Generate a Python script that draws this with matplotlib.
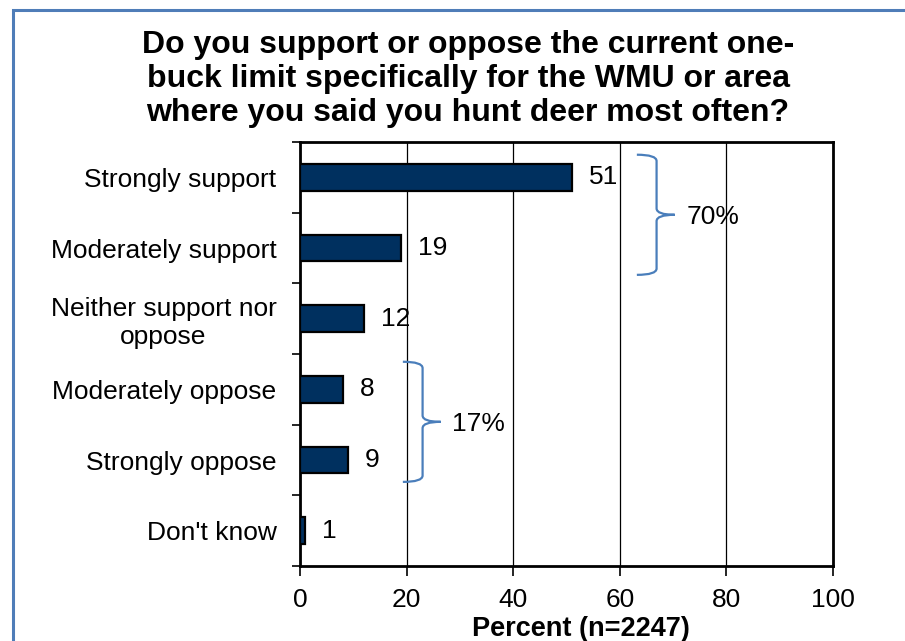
import matplotlib.pyplot as plt
from matplotlib.path import Path
from matplotlib.patches import PathPatch, Rectangle

plt.rcParams['font.family'] = ['Liberation Sans', 'DejaVu Sans']

categories = ["Strongly support", "Moderately support", "Neither support nor\noppose",
              "Moderately oppose", "Strongly oppose", "Don't know"]
values = [51, 19, 12, 8, 9, 1]
xticks = [0, 20, 40, 60, 80, 100]
# rows summarised by a brace (first index, last index)
groups = [(0, 1), (3, 4)]

title = ("Do you support or oppose the current one-\n"
         "buck limit specifically for the WMU or area\n"
         "where you said you hunt deer most often?")

# brace placement: x of the brace, top/bottom overhang in row units
brace_style = [(63.2, 0.32, 0.38), (19.3, 0.39, 0.31)]

fig = plt.figure(figsize=(9.05, 6.41), dpi=100)
ax = fig.add_axes([300 / 905, 75 / 641, 533 / 905, 424 / 641])

# outer frame
fig.patches.append(Rectangle((13 / 905, -0.05), 1.0, 1.05 - 10 / 641,
                             transform=fig.transFigure, fill=False,
                             edgecolor="#4F7DB8", lw=2.2))

pos = list(range(len(categories)))
ax.barh(pos, values, height=0.38, color="#00305F", edgecolor="black", lw=1.6, zorder=3)
for p, v in zip(pos, values):
    ax.text(v + 3.2, p, str(v), va="center", ha="left", fontsize=19)

ax.set_xlim(0, 100)
ax.set_ylim(len(categories) - 0.5, -0.5)
ax.set_xticks(xticks)
ax.grid(axis="x", color="black", lw=0.9, zorder=0)
ax.set_yticks(pos)
ax.set_yticklabels(categories, fontsize=19, multialignment="center")
ax.set_yticks([p - 0.5 for p in pos] + [len(pos) - 0.5], minor=True)
ax.tick_params(axis="y", which="major", length=0, pad=17)
ax.tick_params(axis="y", which="minor", length=6, width=1.2)
ax.tick_params(axis="x", labelsize=19, length=7, width=1.2, pad=9)
for s in ax.spines.values():
    s.set_linewidth(2)

ax.set_xlabel("Percent (n=2247)", fontsize=19.5, fontweight="bold", labelpad=3)
ax.xaxis.set_label_coords(0.527, -0.118)


def brace(x0, i0, i1, over_top, over_bot):
    y0, y1 = i0 - over_top, i1 + over_bot
    ym = (y0 + y1) / 2
    x1 = x0 + 3.7
    xt = x1 + 3.4
    r = 0.09
    verts = [(x0, y0), (x1, y0), (x1, y0 + r),
             (x1, ym - r), (x1, ym), (xt, ym),
             (x1, ym), (x1, ym + r),
             (x1, y1 - r), (x1, y1), (x0, y1)]
    codes = [Path.MOVETO, Path.CURVE3, Path.CURVE3,
             Path.LINETO, Path.CURVE3, Path.CURVE3,
             Path.CURVE3, Path.CURVE3,
             Path.LINETO, Path.CURVE3, Path.CURVE3]
    ax.add_patch(PathPatch(Path(verts, codes), fill=False, edgecolor="#4A7EBB",
                           lw=1.6, zorder=4, clip_on=False))
    total = sum(values[i0:i1 + 1])
    ax.text(xt + 2.2, ym + 0.03, f"{total}%", va="center", ha="left", fontsize=19, zorder=5)


for (i0, i1), (bx, ot, ob) in zip(groups, brace_style):
    brace(bx, i0, i1, ot, ob)

fig.text(468 / 905, 1 - 79 / 641, title, ha="center", va="center",
         fontsize=23, fontweight="bold", linespacing=1.17)

fig.savefig("out.png", dpi=100)
